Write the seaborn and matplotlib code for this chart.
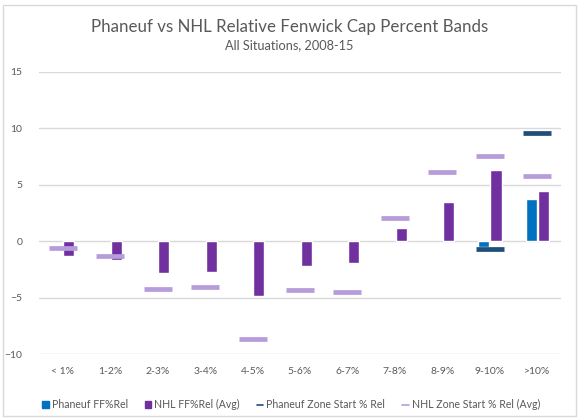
import numpy as np
import pandas as pd
import seaborn as sns
import matplotlib.pyplot as plt
from matplotlib.patches import Patch, Rectangle
from matplotlib.lines import Line2D

bands = ['< 1%', '1-2%', '2-3%', '3-4%', '4-5%', '5-6%', '6-7%',
         '7-8%', '8-9%', '9-10%', '>10%']
phaneuf_ff = [np.nan, np.nan, np.nan, np.nan, np.nan, np.nan, np.nan,
              np.nan, np.nan, -0.55, 3.7]
nhl_ff = [-1.33, -1.7, -2.84, -2.75, -4.88, -2.2, -1.95, 1.21, 3.52, 6.27, 4.41]
phaneuf_zs = [np.nan, np.nan, np.nan, np.nan, np.nan, np.nan, np.nan,
              np.nan, np.nan, -0.68, 9.6]
nhl_zs = [-0.59, -1.3, -4.23, -4.05, -8.67, -4.32, -4.5, 2.07, 6.15, 7.57, 5.8]

c_blue = '#0070C0'
c_purple = '#7030A0'
c_navy = '#1F4E79'
c_lilac = '#B79CDC'
txt = '#595959'
grid = '#D9D9D9'

sns.set_theme(style='white')
plt.rcParams['font.family'] = ['Lato', 'DejaVu Sans']

bars = pd.DataFrame({
    'band': bands * 2,
    'value': phaneuf_ff + nhl_ff,
    'series': ['Phaneuf FF%Rel'] * len(bands) + ['NHL FF%Rel (Avg)'] * len(bands),
})

fig = plt.figure(figsize=(5.79, 4.20), dpi=100)
ax = fig.add_axes([0.0674, 0.157, 0.9016, 0.6716])

sns.barplot(data=bars, x='band', y='value', hue='series', order=bands,
            hue_order=['Phaneuf FF%Rel', 'NHL FF%Rel (Avg)'],
            palette=[c_blue, c_purple], width=0.52, gap=0.1,
            saturation=1, errorbar=None, legend=False, ax=ax)

dash = dict(linestyles='none', markers='_', markersize=19.5,
            markeredgewidth=3.4, errorbar=None, legend=False, ax=ax)
sns.pointplot(x=bands, y=nhl_zs, order=bands, color=c_lilac, **dash)
sns.pointplot(x=bands, y=phaneuf_zs, order=bands, color=c_navy, **dash)

ax.set_xlim(-0.5, len(bands) - 0.5)
ax.set_ylim(-10, 15)
ax.set_yticks([-10, -5, 0, 5, 10, 15])
ax.yaxis.grid(True, color=grid, linewidth=1)
ax.set_axisbelow(True)
for s in ax.spines.values():
    s.set_visible(False)
ax.set_xlabel('')
ax.set_ylabel('')
ax.tick_params(axis='both', length=0, labelsize=7.5, labelcolor=txt)
ax.tick_params(axis='y', pad=12)
ax.tick_params(axis='x', pad=9)

fig.text(0.5, 0.935, 'Phaneuf vs NHL Relative Fenwick Cap Percent Bands',
         ha='center', va='center', fontsize=12.2, color=txt)
fig.text(0.5, 0.892, 'All Situations, 2008-15', ha='center', va='center',
         fontsize=9.2, color=txt)

handles = [
    Patch(color=c_blue, label='Phaneuf FF%Rel'),
    Patch(color=c_purple, label='NHL FF%Rel (Avg)'),
    Line2D([], [], color=c_navy, lw=1.2, label='Phaneuf Zone Start % Rel'),
    Line2D([], [], color=c_lilac, lw=1.2, label='NHL Zone Start % Rel (Avg)'),
]
fig.legend(handles=handles, loc='center', bbox_to_anchor=(0.503, 0.036),
           ncol=4, frameon=False, fontsize=7.6, labelcolor=txt,
           handlelength=0.6, handleheight=0.6, handletextpad=0.3,
           columnspacing=1.6)

fig.patches.append(Rectangle((3 / 579, 4 / 420), 573 / 579, 411 / 420,
                             transform=fig.transFigure, fill=False,
                             edgecolor=grid, linewidth=1))

fig.savefig('out.png', dpi=100)
